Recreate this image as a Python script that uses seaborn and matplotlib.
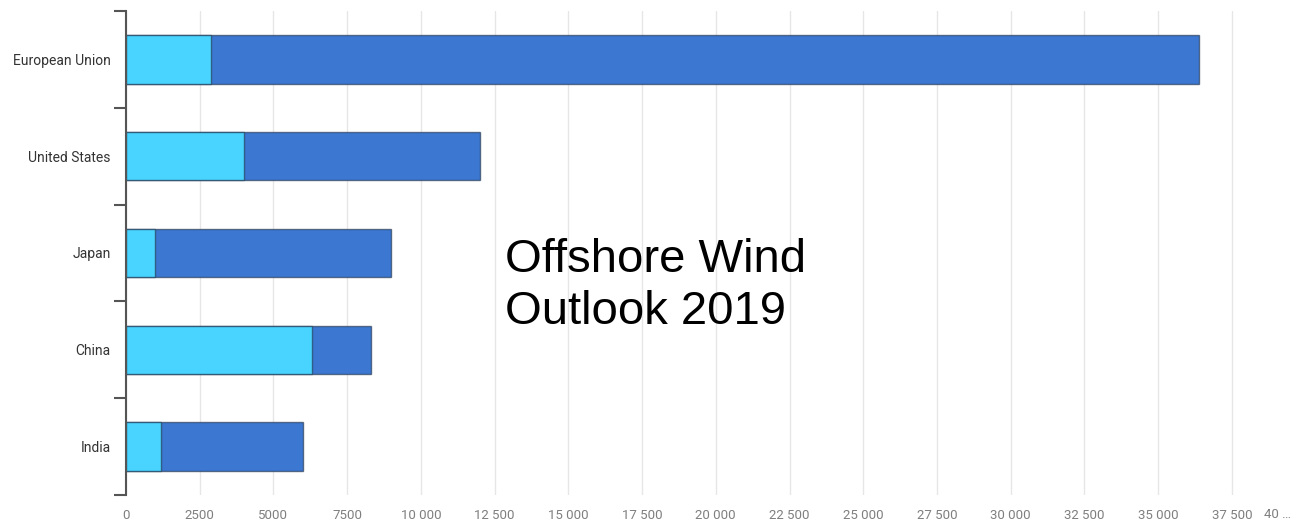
import matplotlib
matplotlib.use("Agg")
import matplotlib.pyplot as plt
import seaborn as sns
import pandas as pd
import numpy as np

# Installed offshore wind capacity (MW) by region, stacked in two segments
regions = ["European Union", "United States", "Japan", "China", "India"]
first_segment = [2880, 4000, 1000, 6300, 1200]
second_segment = [33520, 8000, 8000, 2000, 4800]
x_ticks = list(range(0, 37501, 2500))
x_max = 39640

title_text = "Offshore Wind\nOutlook 2019"

LIGHT = "#48D4FE"
DARK = "#3C78D2"
EDGE = (0.15, 0.22, 0.32, 0.65)

sns.set_theme(style="white")
plt.rcParams["font.family"] = ["Roboto", "DejaVu Sans"]

df = pd.DataFrame({
    "region": regions,
    "first": first_segment,
    "total": [a + b for a, b in zip(first_segment, second_segment)],
})

fig = plt.figure(figsize=(12.95, 5.2), dpi=100)
ax = fig.add_axes([126 / 1295, 25 / 520, (1295 - 126) / 1295, 484 / 520])

# full stacked length first, then the first segment on top of it
sns.barplot(data=df, x="total", y="region", orient="h", color=DARK,
            saturation=1, width=0.5, edgecolor=EDGE, linewidth=1, ax=ax)
sns.barplot(data=df, x="first", y="region", orient="h", color=LIGHT,
            saturation=1, width=0.5, edgecolor=EDGE, linewidth=1, ax=ax)

ax.set_xlim(0, x_max)
ax.set_ylim(len(regions) - 0.5, -0.5)
ax.set_xlabel("")
ax.set_ylabel("")


def fmt(v):
    return f"{v:,}".replace(",", " ") if v >= 10000 else str(v)


ax.set_xticks(x_ticks)
ax.set_xticklabels([fmt(v) for v in x_ticks])
ax.tick_params(axis="x", length=0, pad=10, labelsize=9.5, labelcolor="#7f7f7f")
# truncated label of the next tick at the right edge
ax.text(1.0 - 4 / 1169, -19 / 484, "40 …", transform=ax.transAxes,
        ha="right", va="center", fontsize=9.5, color="#7f7f7f")

ax.set_yticks(np.arange(-0.5, len(regions), 1.0), minor=True)
ax.tick_params(axis="y", which="major", length=0, pad=11, labelsize=10,
               labelcolor="#333333")
ax.tick_params(axis="y", which="minor", left=True, length=9, width=1.5,
               color="#555555")
for lbl in ax.get_yticklabels():
    lbl.set_va("center_baseline")

for side in ("top", "right", "bottom"):
    ax.spines[side].set_visible(False)
ax.spines["left"].set_color("#555555")
ax.spines["left"].set_linewidth(1.5)

ax.grid(axis="x", color="#e6e6e6", linewidth=1)
ax.grid(axis="y", visible=False)
ax.set_axisbelow(True)

fig.text(505 / 1295, 1 - 324 / 520, title_text, ha="left", va="baseline",
         fontsize=34, family=["Liberation Sans", "DejaVu Sans"], color="black",
         linespacing=1.24)

fig.savefig("out.png", dpi=100)
